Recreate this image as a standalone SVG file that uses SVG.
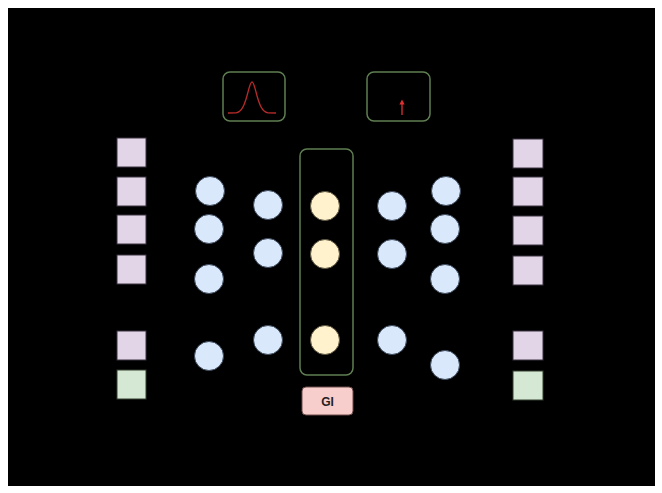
<svg xmlns="http://www.w3.org/2000/svg" width="662" height="493" viewBox="0 0 662 493">
<style>
.bg{fill:#000}
.sq{fill:#e1d5e7;stroke:#3a3340;stroke-width:1}
.sqg{fill:#d5e8d4;stroke:#34402f;stroke-width:1}
.c{fill:#dae8fc;stroke:#3c4a5c;stroke-width:1}
.y{fill:#fff2cc;stroke:#5c5540;stroke-width:1}
.frame{fill:none;stroke:#5f7f52;stroke-width:1.5}
.red{fill:none;stroke:#b52a2a;stroke-width:1.3}
.lbl{font-family:"Liberation Sans",Arial,sans-serif;font-size:12px;font-weight:bold;fill:#222;text-anchor:middle}
</style>
<defs>
<marker id="ah" viewBox="0 0 6 6" refX="3" refY="3" markerWidth="4" markerHeight="4" orient="auto"><path d="M0,0 L6,3 L0,6 z" fill="#e03030"/></marker>
</defs>
<rect x="0" y="0" width="662" height="493" fill="#fff"/>
<rect class="bg" x="8" y="8" width="647" height="478"/>
<g id="connectors"></g>
<g id="dist-box">
<rect class="frame" x="223" y="72" width="62" height="49" rx="7"/>
<path class="red" d="M228,113 L236,112.8 C242,112 245,104 248,92 C250,84 251,82 252,82 C253,82 254,84 256,92 C259,104 262,112 268,112.8 L276,113"/>
</g>
<g id="delta-box">
<rect class="frame" x="367" y="72" width="63" height="49" rx="7"/>
<line x1="402" y1="115" x2="402" y2="102" stroke="#e03030" stroke-width="1.3" marker-end="url(#ah)"/>
</g>
<g id="in1"><rect class="sq" x="117" y="138" width="29" height="29"/></g>
<g id="in2"><rect class="sq" x="117" y="177" width="29" height="29"/></g>
<g id="in3"><rect class="sq" x="117" y="215" width="29" height="29"/></g>
<g id="in4"><rect class="sq" x="117" y="255" width="29" height="29"/></g>
<g id="in5"><rect class="sq" x="117" y="331" width="29" height="29"/></g>
<g id="in6"><rect class="sqg" x="117" y="370" width="29" height="29"/></g>
<g id="e1a"><circle class="c" cx="210" cy="191" r="14.5"/></g>
<g id="e1b"><circle class="c" cx="209" cy="229" r="14.5"/></g>
<g id="e1c"><circle class="c" cx="209" cy="279" r="14.5"/></g>
<g id="e1d"><circle class="c" cx="209" cy="356" r="14.5"/></g>
<g id="e2a"><circle class="c" cx="268" cy="205" r="14.5"/></g>
<g id="e2b"><circle class="c" cx="268" cy="253" r="14.5"/></g>
<g id="e2c"><circle class="c" cx="268" cy="340" r="14.5"/></g>
<g id="latent">
<rect class="frame" x="300" y="149" width="53" height="226" rx="7"/>
<circle class="y" cx="325" cy="206" r="14.5"/>
<circle class="y" cx="325" cy="254" r="14.5"/>
<circle class="y" cx="325" cy="340" r="14.5"/>
</g>
<g id="d1a"><circle class="c" cx="392" cy="206" r="14.5"/></g>
<g id="d1b"><circle class="c" cx="392" cy="254" r="14.5"/></g>
<g id="d1c"><circle class="c" cx="392" cy="340" r="14.5"/></g>
<g id="d2a"><circle class="c" cx="446" cy="191" r="14.5"/></g>
<g id="d2b"><circle class="c" cx="445" cy="229" r="14.5"/></g>
<g id="d2c"><circle class="c" cx="445" cy="279" r="14.5"/></g>
<g id="d2d"><circle class="c" cx="445" cy="365" r="14.5"/></g>
<g id="out1"><rect class="sq" x="513" y="139" width="30" height="29"/></g>
<g id="out2"><rect class="sq" x="513" y="177" width="30" height="29"/></g>
<g id="out3"><rect class="sq" x="513" y="216" width="30" height="29"/></g>
<g id="out4"><rect class="sq" x="513" y="256" width="30" height="29"/></g>
<g id="out5"><rect class="sq" x="513" y="331" width="30" height="29"/></g>
<g id="out6"><rect class="sqg" x="513" y="371" width="30" height="29"/></g>
<g id="gi">
<rect x="302" y="387" width="51" height="28" rx="4" fill="#f8cecc" stroke="#6b4a4a" stroke-width="1"/>
<text class="lbl" x="327.5" y="405.5">GI</text>
</g>
</svg>
